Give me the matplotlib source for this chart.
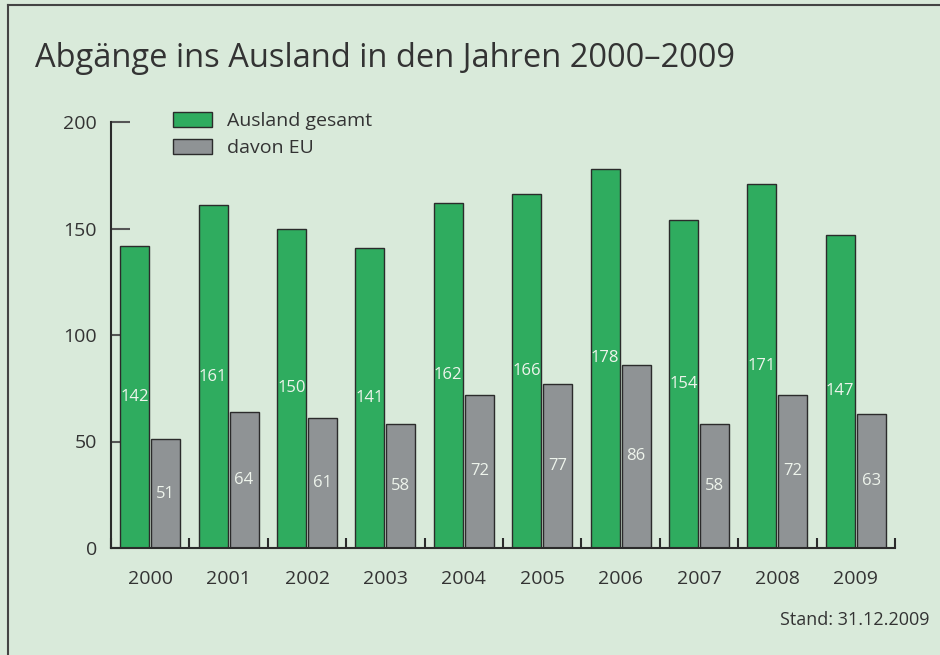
import numpy as np
import matplotlib.pyplot as plt
from matplotlib.patches import Patch
from matplotlib.lines import Line2D

# Daten
jahre = ['2000', '2001', '2002', '2003', '2004', '2005', '2006', '2007', '2008', '2009']
ausland_gesamt = [142, 161, 150, 141, 162, 166, 178, 154, 171, 147]
davon_eu = [51, 64, 61, 58, 72, 77, 86, 58, 72, 63]

bg = '#d9eada'
gruen = '#2fac5f'
grau = '#8f9395'
text_col = '#333333'

plt.rcParams['font.family'] = ['Open Sans', 'DejaVu Sans']

fig = plt.figure(figsize=(9.4, 6.55), dpi=100, facecolor=bg)
ax = fig.add_axes([111/940, 1 - 548/655, (895 - 111)/940, (548 - 122)/655])
ax.set_facecolor(bg)

x = np.arange(len(jahre)) + 0.5
off = 0.198
w = 0.37
ax.bar(x - off, ausland_gesamt, w, color=gruen, edgecolor='#2b2b2b', linewidth=1, zorder=2)
ax.bar(x + off, davon_eu, w, color=grau, edgecolor='#2b2b2b', linewidth=1, zorder=2)

# Werte in den Balken
for xi, v in zip(x, ausland_gesamt):
    ax.text(xi - off, v / 2, str(v), ha='center', va='center', color='#eef4ec', fontsize=12, zorder=3)
for xi, v in zip(x, davon_eu):
    ax.text(xi + off, v / 2, str(v), ha='center', va='center', color='#eef4ec', fontsize=12, zorder=3)

ax.set_xlim(0, 10)
ax.set_ylim(0, 200)
ax.set_axisbelow(True)
for s in ['top', 'right']:
    ax.spines[s].set_visible(False)
for s in ['left', 'bottom']:
    ax.spines[s].set_color('#2b2b2b')
    ax.spines[s].set_linewidth(1.5)

ax.set_yticks([0, 50, 100, 150, 200])
ax.tick_params(axis='y', direction='in', length=14, width=1.5, color='#555555',
               labelsize=14, labelcolor=text_col, pad=10)
ax.set_xticks(x)
ax.set_xticklabels(jahre)
ax.tick_params(axis='x', length=0, labelsize=14, labelcolor=text_col, pad=16)
ax.set_xticks(np.arange(0, 11), minor=True)
ax.tick_params(axis='x', which='minor', direction='in', length=7, width=1.5, color='#2b2b2b')

handles = [Patch(facecolor=gruen, edgecolor='#2b2b2b', linewidth=1, label='Ausland gesamt'),
           Patch(facecolor=grau, edgecolor='#2b2b2b', linewidth=1, label='davon EU')]
leg = fig.legend(handles=handles, loc='upper left', bbox_to_anchor=(173/940, 1 - 112/655),
                 frameon=False, fontsize=14, handlelength=2.0, handleheight=0.8,
                 handletextpad=0.8, labelspacing=0.45, borderpad=0, borderaxespad=0)
for t in leg.get_texts():
    t.set_color(text_col)

fig.text(35/940, 1 - 67/655, 'Abgänge ins Ausland in den Jahren 2000–2009',
         fontsize=23.5, color=text_col, va='baseline', ha='left')
fig.text(930/940, 1 - 620/655, 'Stand: 31.12.2009', fontsize=13, color=text_col,
         va='center', ha='right')

# Rahmen links und oben
fig.add_artist(Line2D([8/940, 8/940], [0, 1 - 5/655], transform=fig.transFigure,
                      color='#444444', linewidth=1.5))
fig.add_artist(Line2D([8/940, 1], [1 - 5/655, 1 - 5/655], transform=fig.transFigure,
                      color='#444444', linewidth=1.5))

fig.savefig('out.png', dpi=100, facecolor=bg)
